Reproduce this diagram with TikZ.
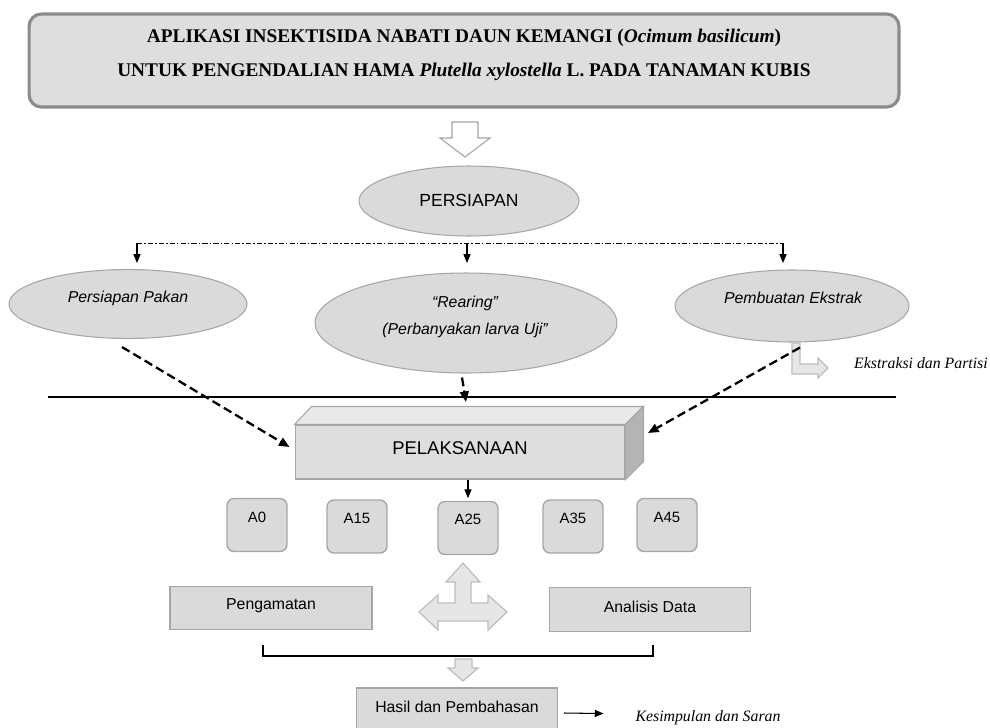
\documentclass[tikz,border=0pt]{standalone}
\usepackage{fontspec}
\setmainfont{Liberation Sans}
\newfontfamily\judulfont{Liberation Serif}
\usetikzlibrary{shapes.geometric,arrows.meta,calc}
\definecolor{judulisi}{HTML}{DEDEDE}
\definecolor{judulgaris}{HTML}{8C8C8C}
\definecolor{abuisi}{HTML}{DADADA}
\definecolor{abugaris}{HTML}{A6A6A6}
\definecolor{panahisi}{HTML}{E6E6E6}
\definecolor{panahgaris}{HTML}{BDBDBD}
\definecolor{sisiatas}{HTML}{E9E9E9}
\definecolor{sisikanan}{HTML}{B4B4B4}
\begin{document}
\begin{tikzpicture}[x=0.02cm,y=-0.02cm,
  oval/.style={ellipse,draw=abugaris,fill=abuisi,line width=0.6pt,inner sep=0pt},
  kotak/.style={rectangle,draw=abugaris,fill=abuisi,line width=0.8pt,inner sep=0pt},
  kotakA/.style={kotak,rounded corners=4pt,minimum width=1.2cm,minimum height=1.06cm},
  teks/.style={inner sep=0pt,font=\fontsize{9}{11}\selectfont},
  tulisan/.style={inner sep=0pt,font=\judulfont\itshape\fontsize{9}{11}\selectfont},
  blok/.style={draw=panahgaris,fill=panahisi,line width=0.7pt,line join=miter},
  ujung/.style={-{Triangle[length=5pt,width=4pt]},line width=0.6pt},
  putus/.style={-{Triangle[length=6pt,width=5pt]},line width=1.3pt,dash pattern=on 5pt off 2.5pt}]
\useasboundingbox (0,0) rectangle (990,727);
\node[rectangle,rounded corners=7pt,draw=judulgaris,fill=judulisi,line width=1.8pt,
  minimum width=17.4cm,minimum height=1.86cm] (judul) at (464,60.5) {};
\node[inner sep=0pt,align=center,font=\judulfont\bfseries\fontsize{11}{19.3}\selectfont] (judulteks) at (464,55)
  {APLIKASI INSEKTISIDA NABATI DAUN KEMANGI (\textit{Ocimum basilicum})\\
   UNTUK PENGENDALIAN HAMA \textit{Plutella xylostella} L. PADA TANAMAN KUBIS};
\draw[draw=judulgaris!80,fill=white,line width=0.6pt] (452,122) -- (478,122) -- (478,138) -- (490,138)
  -- (465,157) -- (440,138) -- (452,138) -- cycle;
\node[oval,minimum width=4.4cm,minimum height=1.4cm] (siap) at (469,201) {};
\node[teks,font=\fontsize{10}{12}\selectfont] (siapteks) at (469,200) {PERSIAPAN};
\coordinate (cabkiri) at (137,243);
\coordinate (cabtengah) at (467,243);
\coordinate (cabkanan) at (783,243);
\draw[line width=0.5pt,dash pattern=on 3pt off 1.2pt on 0.8pt off 1.2pt] (cabkiri) -- (cabkanan);
\node[oval,minimum width=4.76cm,minimum height=1.38cm] (pakan) at (128,304) {};
\node[teks,font=\itshape\fontsize{9}{11}\selectfont] (pakanteks) at (128,298) {Persiapan Pakan};
\node[oval,minimum width=6.04cm,minimum height=2cm] (rearing) at (466,323) {};
\node[teks,align=center,font=\itshape\fontsize{9}{15.3}\selectfont] (rearingteks) at (465,317)
  {``Rearing''\\(Perbanyakan larva Uji''};
\node[oval,minimum width=4.68cm,minimum height=1.44cm] (ekstrak) at (792,306) {};
\node[teks,font=\itshape\fontsize{9}{11}\selectfont] (ekstrakteks) at (793,298) {Pembuatan Ekstrak};
\draw[ujung] (cabkiri) -- (137,263);
\draw[ujung] (cabtengah) -- (467,263);
\draw[ujung] (cabkanan) -- (783,263);
\draw[blok] (792,343) -- (800,343) -- (800,364) -- (818,364) -- (818,358) -- (828,368)
  -- (818,378) -- (818,374) -- (792,374) -- cycle;
\node[tulisan] (partisi) at (921,363) {Ekstraksi dan Partisi};
\coordinate (gariskiri) at (48,397);
\coordinate (gariskanan) at (896,397);
\draw[line width=1.2pt] (gariskiri) -- (gariskanan);
\node[rectangle,draw=abugaris,fill=judulisi,line width=0.6pt,inner sep=0pt,
  minimum width=6.6cm,minimum height=1.08cm] (kerja) at (460,452) {};
\filldraw[draw=abugaris,fill=sisiatas,line width=0.6pt] (kerja.north west) -- ++(17,-18)
  -- ([shift={(18,-18)}]kerja.north east) -- (kerja.north east) -- cycle;
\filldraw[draw=abugaris,fill=sisikanan,line width=0.6pt] (kerja.north east) -- ++(18,-18)
  -- ([shift={(18,-18)}]kerja.south east) -- (kerja.south east) -- cycle;
\node[teks,font=\fontsize{10.5}{12}\selectfont] (kerjateks) at (460,448) {PELAKSANAAN};
\coordinate (kerjasisi) at (648,433);
\draw[putus] ($(pakan.south)+(-6,8)$) -- ($(kerja.west)+(-5,-5)$);
\draw[putus] ($(rearing.south)+(-4,4)$) -- (466,402);
\draw[putus] ($(ekstrak.south)+(8,5)$) -- (kerjasisi);
\node[kotakA] (a0) at (257,525) {};
\node[kotakA] (a15) at (357,526.5) {};
\node[kotakA] (a25) at (468,528) {};
\node[kotakA] (a35) at (573,526.5) {};
\node[kotakA] (a45) at (667,525) {};
\foreach \nama/\teks/\ty in {a0/A0/517,a15/A15/518,a25/A25/519,a35/A35/518,a45/A45/517}
  \node[teks,font=\fontsize{8.5}{10}\selectfont] (\nama teks) at (\nama.north |- 0,\ty) {\teks};
\draw[ujung] (a25.north |- kerja.south) -- ([yshift=1.5pt]a25.north);
\draw[blok] (463,563) -- (480,582) -- (471,582) -- (471,603) -- (488,603) -- (488,595) -- (507,612)
  -- (488,630) -- (488,621) -- (438,621) -- (438,630) -- (419,612) -- (438,595) -- (438,603)
  -- (455,603) -- (455,582) -- (446,582) -- cycle;
\node[kotak,minimum width=4.04cm,minimum height=0.87cm] (amat) at (271,608) {};
\node[teks] (amatteks) at (271,606) {Pengamatan};
\node[kotak,minimum width=4.02cm,minimum height=0.88cm] (analisis) at (650,609.5) {};
\node[teks] (analisisteks) at (650,607) {Analisis Data};
\draw[line width=1.1pt] (263,645) -- (263,656) -- (653,656) -- (653,645);
\draw[blok] (455,659) -- (472,659) -- (472,668) -- (478,668) -- (463,681) -- (448,668) -- (455,668) -- cycle;
\node[kotak,minimum width=4.02cm,minimum height=0.84cm] (hasil) at (457,709) {};
\node[teks] (hasilteks) at (457,707) {Hasil dan Pembahasan};
\node[tulisan] (simpul) at (708,718) {Kesimpulan dan Saran};
\draw[ujung,shorten >=18pt] ($(hasil.east)+(6,4)$) -- ($(simpul.west)+(0,-4)$);
\end{tikzpicture}
\end{document}
